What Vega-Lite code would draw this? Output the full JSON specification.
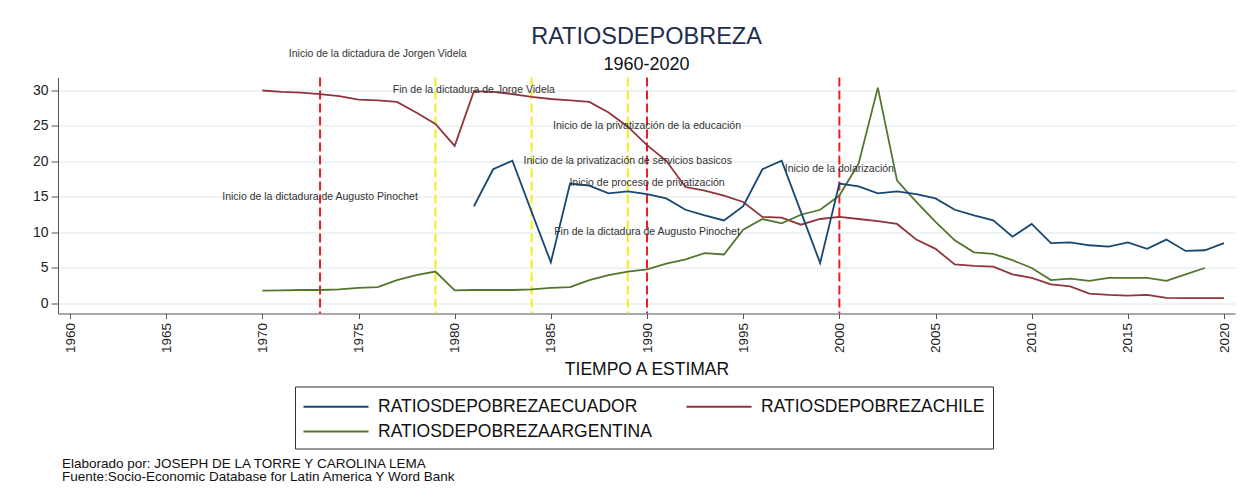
{
  "$schema": "https://vega.github.io/schema/vega-lite/v6.json",
  "background": "white",
  "padding": {"left": 32, "top": 24.5, "right": 10, "bottom": 5},
  "config": {"font": "Liberation Sans", "view": {"stroke": null}},
  "title": {
    "text": ["Elaborado por: JOSEPH DE LA TORRE Y CAROLINA LEMA", "Fuente:Socio-Economic Database for Latin America Y Word Bank"],
    "orient": "bottom", "anchor": "start", "frame": "group",
    "fontSize": 13.5, "lineHeight": 13, "color": "#111", "fontWeight": "normal",
    "offset": 8, "dx": 4
  },
  "datasets": {
    "series": [
      {"anio":1970,"RATIOSDEPOBREZACHILE":30.0,"RATIOSDEPOBREZAARGENTINA":1.8},
      {"anio":1971,"RATIOSDEPOBREZACHILE":29.8,"RATIOSDEPOBREZAARGENTINA":1.85},
      {"anio":1972,"RATIOSDEPOBREZACHILE":29.7,"RATIOSDEPOBREZAARGENTINA":1.9},
      {"anio":1973,"RATIOSDEPOBREZACHILE":29.5,"RATIOSDEPOBREZAARGENTINA":1.9},
      {"anio":1974,"RATIOSDEPOBREZACHILE":29.2,"RATIOSDEPOBREZAARGENTINA":2.0},
      {"anio":1975,"RATIOSDEPOBREZACHILE":28.7,"RATIOSDEPOBREZAARGENTINA":2.2},
      {"anio":1976,"RATIOSDEPOBREZACHILE":28.6,"RATIOSDEPOBREZAARGENTINA":2.3},
      {"anio":1977,"RATIOSDEPOBREZACHILE":28.4,"RATIOSDEPOBREZAARGENTINA":3.3},
      {"anio":1978,"RATIOSDEPOBREZACHILE":26.9,"RATIOSDEPOBREZAARGENTINA":4.0},
      {"anio":1979,"RATIOSDEPOBREZACHILE":25.3,"RATIOSDEPOBREZAARGENTINA":4.5},
      {"anio":1980,"RATIOSDEPOBREZACHILE":22.2,"RATIOSDEPOBREZAARGENTINA":1.85},
      {"anio":1981,"RATIOSDEPOBREZAECUADOR":13.7,"RATIOSDEPOBREZACHILE":29.9,"RATIOSDEPOBREZAARGENTINA":1.9},
      {"anio":1982,"RATIOSDEPOBREZAECUADOR":18.9,"RATIOSDEPOBREZACHILE":29.8,"RATIOSDEPOBREZAARGENTINA":1.9},
      {"anio":1983,"RATIOSDEPOBREZAECUADOR":20.1,"RATIOSDEPOBREZACHILE":29.5,"RATIOSDEPOBREZAARGENTINA":1.9},
      {"anio":1984,"RATIOSDEPOBREZAECUADOR":12.9,"RATIOSDEPOBREZACHILE":29.1,"RATIOSDEPOBREZAARGENTINA":2.0},
      {"anio":1985,"RATIOSDEPOBREZAECUADOR":5.8,"RATIOSDEPOBREZACHILE":28.8,"RATIOSDEPOBREZAARGENTINA":2.2},
      {"anio":1986,"RATIOSDEPOBREZAECUADOR":16.9,"RATIOSDEPOBREZACHILE":28.6,"RATIOSDEPOBREZAARGENTINA":2.3},
      {"anio":1987,"RATIOSDEPOBREZAECUADOR":16.6,"RATIOSDEPOBREZACHILE":28.4,"RATIOSDEPOBREZAARGENTINA":3.3},
      {"anio":1988,"RATIOSDEPOBREZAECUADOR":15.5,"RATIOSDEPOBREZACHILE":26.9,"RATIOSDEPOBREZAARGENTINA":4.0},
      {"anio":1989,"RATIOSDEPOBREZAECUADOR":15.8,"RATIOSDEPOBREZACHILE":24.9,"RATIOSDEPOBREZAARGENTINA":4.5},
      {"anio":1990,"RATIOSDEPOBREZAECUADOR":15.4,"RATIOSDEPOBREZACHILE":22.3,"RATIOSDEPOBREZAARGENTINA":4.8},
      {"anio":1991,"RATIOSDEPOBREZAECUADOR":14.8,"RATIOSDEPOBREZACHILE":20.1,"RATIOSDEPOBREZAARGENTINA":5.6},
      {"anio":1992,"RATIOSDEPOBREZAECUADOR":13.2,"RATIOSDEPOBREZACHILE":16.4,"RATIOSDEPOBREZAARGENTINA":6.2},
      {"anio":1993,"RATIOSDEPOBREZAECUADOR":12.4,"RATIOSDEPOBREZACHILE":15.9,"RATIOSDEPOBREZAARGENTINA":7.1},
      {"anio":1994,"RATIOSDEPOBREZAECUADOR":11.7,"RATIOSDEPOBREZACHILE":15.2,"RATIOSDEPOBREZAARGENTINA":6.9},
      {"anio":1995,"RATIOSDEPOBREZAECUADOR":13.7,"RATIOSDEPOBREZACHILE":14.3,"RATIOSDEPOBREZAARGENTINA":10.4},
      {"anio":1996,"RATIOSDEPOBREZAECUADOR":18.9,"RATIOSDEPOBREZACHILE":12.2,"RATIOSDEPOBREZAARGENTINA":11.9},
      {"anio":1997,"RATIOSDEPOBREZAECUADOR":20.1,"RATIOSDEPOBREZACHILE":12.1,"RATIOSDEPOBREZAARGENTINA":11.3},
      {"anio":1998,"RATIOSDEPOBREZAECUADOR":12.9,"RATIOSDEPOBREZACHILE":11.1,"RATIOSDEPOBREZAARGENTINA":12.5},
      {"anio":1999,"RATIOSDEPOBREZAECUADOR":5.7,"RATIOSDEPOBREZACHILE":11.9,"RATIOSDEPOBREZAARGENTINA":13.2},
      {"anio":2000,"RATIOSDEPOBREZAECUADOR":16.9,"RATIOSDEPOBREZACHILE":12.2,"RATIOSDEPOBREZAARGENTINA":15.2},
      {"anio":2001,"RATIOSDEPOBREZAECUADOR":16.5,"RATIOSDEPOBREZACHILE":11.9,"RATIOSDEPOBREZAARGENTINA":19.7},
      {"anio":2002,"RATIOSDEPOBREZAECUADOR":15.5,"RATIOSDEPOBREZACHILE":11.6,"RATIOSDEPOBREZAARGENTINA":30.4},
      {"anio":2003,"RATIOSDEPOBREZAECUADOR":15.8,"RATIOSDEPOBREZACHILE":11.2,"RATIOSDEPOBREZAARGENTINA":17.3},
      {"anio":2004,"RATIOSDEPOBREZAECUADOR":15.4,"RATIOSDEPOBREZACHILE":9.0,"RATIOSDEPOBREZAARGENTINA":14.3},
      {"anio":2005,"RATIOSDEPOBREZAECUADOR":14.8,"RATIOSDEPOBREZACHILE":7.7,"RATIOSDEPOBREZAARGENTINA":11.5},
      {"anio":2006,"RATIOSDEPOBREZAECUADOR":13.2,"RATIOSDEPOBREZACHILE":5.5,"RATIOSDEPOBREZAARGENTINA":8.9},
      {"anio":2007,"RATIOSDEPOBREZAECUADOR":12.4,"RATIOSDEPOBREZACHILE":5.3,"RATIOSDEPOBREZAARGENTINA":7.2},
      {"anio":2008,"RATIOSDEPOBREZAECUADOR":11.7,"RATIOSDEPOBREZACHILE":5.2,"RATIOSDEPOBREZAARGENTINA":7.0},
      {"anio":2009,"RATIOSDEPOBREZAECUADOR":9.4,"RATIOSDEPOBREZACHILE":4.1,"RATIOSDEPOBREZAARGENTINA":6.1},
      {"anio":2010,"RATIOSDEPOBREZAECUADOR":11.2,"RATIOSDEPOBREZACHILE":3.6,"RATIOSDEPOBREZAARGENTINA":5.0},
      {"anio":2011,"RATIOSDEPOBREZAECUADOR":8.5,"RATIOSDEPOBREZACHILE":2.7,"RATIOSDEPOBREZAARGENTINA":3.3},
      {"anio":2012,"RATIOSDEPOBREZAECUADOR":8.6,"RATIOSDEPOBREZACHILE":2.4,"RATIOSDEPOBREZAARGENTINA":3.5},
      {"anio":2013,"RATIOSDEPOBREZAECUADOR":8.2,"RATIOSDEPOBREZACHILE":1.4,"RATIOSDEPOBREZAARGENTINA":3.2},
      {"anio":2014,"RATIOSDEPOBREZAECUADOR":8.0,"RATIOSDEPOBREZACHILE":1.2,"RATIOSDEPOBREZAARGENTINA":3.6},
      {"anio":2015,"RATIOSDEPOBREZAECUADOR":8.6,"RATIOSDEPOBREZACHILE":1.1,"RATIOSDEPOBREZAARGENTINA":3.6},
      {"anio":2016,"RATIOSDEPOBREZAECUADOR":7.7,"RATIOSDEPOBREZACHILE":1.2,"RATIOSDEPOBREZAARGENTINA":3.6},
      {"anio":2017,"RATIOSDEPOBREZAECUADOR":9.0,"RATIOSDEPOBREZACHILE":0.8,"RATIOSDEPOBREZAARGENTINA":3.2},
      {"anio":2018,"RATIOSDEPOBREZAECUADOR":7.4,"RATIOSDEPOBREZACHILE":0.75,"RATIOSDEPOBREZAARGENTINA":4.1},
      {"anio":2019,"RATIOSDEPOBREZAECUADOR":7.5,"RATIOSDEPOBREZACHILE":0.75,"RATIOSDEPOBREZAARGENTINA":5.0},
      {"anio":2020,"RATIOSDEPOBREZAECUADOR":8.5,"RATIOSDEPOBREZACHILE":0.75}
    ],
    "eventosRojos": [{"anio":1973},{"anio":1990},{"anio":2000}],
    "eventosAmarillos": [{"anio":1979},{"anio":1984},{"anio":1989}],
    "anotaciones": [
      {"anio":1976,"nivel":35.1,"texto":"Inicio de la dictadura de Jorgen Videla"},
      {"anio":1981,"nivel":30,"texto":"Fin de la dictadura de Jorge Videla"},
      {"anio":1990,"nivel":25,"texto":"Inicio de la privatización de la educación"},
      {"anio":1989,"nivel":20,"texto":"Inicio de la privatización de servicios basicos"},
      {"anio":2000,"nivel":19,"texto":"Inicio de la dolarización"},
      {"anio":1990,"nivel":17,"texto":"Inicio de proceso de privatización"},
      {"anio":1973,"nivel":15,"texto":"Inicio de la dictadura de Augusto Pinochet"},
      {"anio":1990,"nivel":10,"texto":"Fin de la dictadura de Augusto Pinochet"}
    ]
  },
  "vconcat": [
    {
      "width": 1177,
      "height": 236,
      "title": {
        "text": "RATIOSDEPOBREZA", "subtitle": "1960-2020",
        "anchor": "middle", "frame": "group",
        "fontSize": 23.5, "fontWeight": "normal", "color": "#1f2d4d",
        "subtitleFontSize": 18, "subtitleColor": "#111", "subtitlePadding": 8,
        "offset": -25
      },
      "layer": [
        {
          "data": {"name": "eventosRojos"},
          "mark": {"type": "rule", "color": "#ee1c24", "strokeWidth": 2, "strokeDash": [9, 4]},
          "encoding": {
            "x": {"field": "anio", "type": "quantitative", "scale": {"domain": [1959.376, 2020.57], "nice": false, "zero": false}}
          }
        },
        {
          "data": {"name": "eventosAmarillos"},
          "mark": {"type": "rule", "color": "#f5ee10", "strokeWidth": 2, "strokeDash": [9, 4]},
          "encoding": {
            "x": {"field": "anio", "type": "quantitative", "scale": {"domain": [1959.376, 2020.57], "nice": false, "zero": false}}
          }
        },
        {
          "data": {"name": "series"},
          "transform": [
            {"fold": ["RATIOSDEPOBREZAECUADOR", "RATIOSDEPOBREZACHILE", "RATIOSDEPOBREZAARGENTINA"], "as": ["serie", "valor"]},
            {"filter": "isValid(datum.valor)"}
          ],
          "mark": {"type": "line", "strokeWidth": 1.8},
          "encoding": {
            "x": {
              "field": "anio", "type": "quantitative",
              "scale": {"domain": [1959.376, 2020.57], "nice": false, "zero": false},
              "axis": {
                "values": [1960,1965,1970,1975,1980,1985,1990,1995,2000,2005,2010,2015,2020],
                "format": "d", "labelAngle": 270, "labelAlign": "right", "labelBaseline": "middle",
                "labelFontSize": 13.5, "labelColor": "#222", "labelPadding": 4,
                "labelFlush": false, "labelOverlap": false,
                "tickSize": 5, "tickColor": "#555", "domainColor": "#555",
                "grid": false,
                "title": "TIEMPO A ESTIMAR", "titleFontSize": 17.5, "titleFontWeight": "normal",
                "titleColor": "#111", "titlePadding": 8
              }
            },
            "y": {
              "field": "valor", "type": "quantitative",
              "scale": {"domain": [-1.41, 31.83], "nice": false, "zero": false},
              "axis": {
                "values": [0, 5, 10, 15, 20, 25, 30], "tickCount": 7,
                "labelFontSize": 14, "labelColor": "#222", "labelPadding": 3,
                "labelOverlap": false, "labelFlush": false,
                "tickSize": 7, "tickColor": "#555", "domainColor": "#555",
                "grid": true, "gridColor": "#e8eff1", "gridWidth": 1.5,
                "title": null
              }
            },
            "color": {
              "field": "serie", "type": "nominal",
              "scale": {
                "domain": ["RATIOSDEPOBREZAECUADOR", "RATIOSDEPOBREZAARGENTINA", "RATIOSDEPOBREZACHILE"],
                "range": ["#1a476f", "#55752f", "#90353b"]
              },
              "legend": {
                "title": null, "orient": "none", "legendX": 237, "legendY": 309,
                "columns": 2, "columnPadding": 30, "rowPadding": 4, "padding": 8,
                "strokeColor": "#333", "fillColor": "white",
                "symbolType": "M-3,0H3", "symbolSize": 470, "symbolStrokeWidth": 1.8,
                "symbolOffset": 21, "labelOffset": 30,
                "labelFontSize": 17.5, "labelColor": "#111", "labelLimit": 500
              }
            }
          }
        },
        {
          "data": {"name": "anotaciones"},
          "mark": {"type": "text", "fontSize": 10.5, "color": "#333", "align": "center", "baseline": "middle", "clip": false},
          "encoding": {
            "x": {"field": "anio", "type": "quantitative", "scale": {"domain": [1959.376, 2020.57], "nice": false, "zero": false}},
            "y": {
              "field": "nivel", "type": "quantitative",
              "scale": {"domain": [-1.41, 31.83], "nice": false, "zero": false},
              "axis": {
                "values": [0, 5, 10, 15, 20, 25, 30], "tickCount": 7,
                "labelFontSize": 14, "labelColor": "#222", "labelPadding": 3,
                "labelOverlap": false, "labelFlush": false,
                "tickSize": 7, "tickColor": "#555", "domainColor": "#555",
                "grid": true, "gridColor": "#e8eff1", "gridWidth": 1.5,
                "title": null
              }
            },
            "text": {"field": "texto"}
          }
        }
      ]
    }
  ]
}
